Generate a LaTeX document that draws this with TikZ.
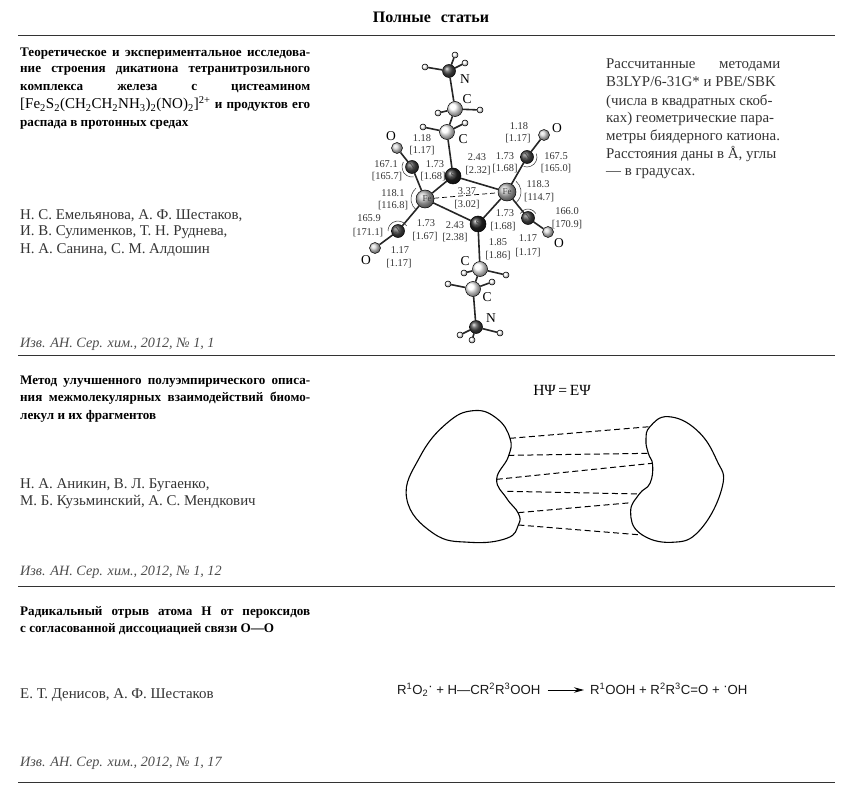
\documentclass[tikz,border=0pt]{standalone}
\usepackage{fontspec}
\setmainfont{Liberation Serif}
\newfontfamily\eqfont{Liberation Sans}
\usetikzlibrary{arrows.meta,backgrounds}
\newcommand{\tln}[5][]{\node[txt,#1] (#2) at (#3,#4) {#5};}
\newcommand{\jln}[4]{\node[txt,ttl] (#1) at (#2,#3) {\makebox[290pt][s]{#4}};}
\newcommand{\lab}[3]{\node[lbl] at (#1,#2) {#3};}
\newcommand{\elt}[3]{\node[eltlbl] at (#1,#2) {#3};}
\newcommand{\ins}[3]{\node[insym] at (#1,#2) {#3};}
\newcommand{\angarc}[4]{\draw[bendarc] (#1) ++(#2:#4pt) arc[start angle=#2,end angle=#3,radius=#4pt];}
\newcommand{\rdot}{\raisebox{0.45ex}{\fontsize{13}{13}\selectfont·}}
\begin{document}
\begin{tikzpicture}[x=1pt,y=-1pt,
  txt/.style={anchor=base west,inner sep=0pt,font=\fontsize{14.9}{16}\selectfont,text=black!80},
  ttl/.style={font=\fontsize{13.1}{15}\selectfont\bfseries,text=black},
  cite/.style={font=\fontsize{14.2}{16}\selectfont\itshape,text=black!70},
  rule/.style={line width=0.8pt,black!80},
  lbl/.style={inner sep=0pt,font=\fontsize{10.4}{11}\selectfont,text=black!80},
  eltlbl/.style={inner sep=0pt,font=\fontsize{13.5}{14}\selectfont,text=black},
  insym/.style={inner sep=0pt,font=\fontsize{9}{10}\selectfont,text=black!75},
  bond/.style={line width=1.6pt,black!85},
  atom/.style={circle,draw=black,line width=0.5pt,inner sep=0pt,shading=ball},
  hyd/.style={atom,minimum size=6pt,ball color=white},
  car/.style={atom,minimum size=15pt,ball color=white},
  nit/.style={atom,minimum size=13pt,ball color=black!70},
  sul/.style={atom,minimum size=16pt,ball color=black!85},
  iron/.style={atom,minimum size=18pt,ball color=black!25},
  oxy/.style={atom,minimum size=11pt,ball color=black!15},
  bendarc/.style={line width=0.5pt,black!80},
  blob/.style={line width=1.1pt,black},
  hbond/.style={line width=1pt,black,dash pattern=on 6pt off 3.5pt},
  eq/.style={anchor=base west,inner sep=0pt,font=\fontsize{13.2}{15}\selectfont\eqfont,text=black!90}]
\useasboundingbox (0,0) rectangle (861,786);

% rules
\coordinate (r1a) at (18,35); \coordinate (r1b) at (835,35);
\coordinate (r2a) at (18,355); \coordinate (r2b) at (835,355);
\coordinate (r3a) at (18,586); \coordinate (r3b) at (835,586);
\coordinate (r4a) at (18,782); \coordinate (r4b) at (835,782);
\draw[rule] (r1a)--(r1b); \draw[rule] (r2a)--(r2b); \draw[rule] (r3a)--(r3b); \draw[rule] (r4a)--(r4b);

\node[inner sep=0pt,font=\fontsize{16}{18}\selectfont\bfseries] (head) at (431,17) {Полные\hspace{10pt}статьи};

% section 1
\jln{a1}{20}{57}{Теоретическое и экспериментальное исследова-}
\jln{a2}{20}{73}{ние строения дикатиона тетранитрозильного}
\jln{a3}{20}{91}{комплекса железа с цистеамином}
\node[txt,ttl] (a4) at (20,109) {\makebox[290pt][s]{{\mdseries\fontsize{15}{15}\selectfont [Fe\textsubscript{2}S\textsubscript{2}(CH\textsubscript{2}CH\textsubscript{2}NH\textsubscript{3})\textsubscript{2}(NO)\textsubscript{2}]\textsuperscript{2+}} и продуктов его}};
\tln[ttl]{a5}{20}{127}{распада в протонных средах}
\tln{a6}{20}{219}{Н. С. Емельянова, А. Ф. Шестаков,}
\tln{a7}{20}{236}{И. В. Сулименков, Т. Н. Руднева,}
\tln{a8}{20}{254}{Н. А. Санина, С. М. Алдошин}
\tln[cite]{a9}{20}{347}{Изв. АН. Сер. хим., 2012, № 1, 1}

% side text
\tln{s1}{606}{69}{\makebox[174pt][s]{Рассчитанные методами}}
\tln{s2}{606}{87}{B3LYP/6-31G* и PBE/SBK}
\tln{s3}{606}{106}{(числа в квадратных скоб-}
\tln{s4}{606}{123}{ках) геометрические пара-}
\tln{s5}{606}{141}{метры биядерного катиона.}
\tln{s6}{606}{159}{Расстояния даны в Å, углы}
\tln{s7}{606}{176}{— в градусах.}

% section 2
\jln{b1}{20}{384}{Метод улучшенного полуэмпирического описа-}
\jln{b2}{20}{401}{ния межмолекулярных взаимодействий биомо-}
\tln[ttl]{b3}{20}{419}{лекул и их фрагментов}
\tln{b4}{20}{488}{Н. А. Аникин, В. Л. Бугаенко,}
\tln{b5}{20}{505}{М. Б. Кузьминский, А. С. Мендкович}
\tln[cite]{b6}{20}{575}{Изв. АН. Сер. хим., 2012, № 1, 12}

% section 3
\jln{c1}{20}{615}{Радикальный отрыв атома Н от пероксидов}
\tln[ttl]{c2}{20}{632}{с согласованной диссоциацией связи О—О}
\tln{c3}{20}{698}{Е. Т. Денисов, А. Ф. Шестаков}
\tln[cite]{c4}{20}{766}{Изв. АН. Сер. хим., 2012, № 1, 17}

% molecule atoms
\node[nit] (Nt) at (449,71) {};
\node[hyd] (Nt1) at (455,55) {}; \node[hyd] (Nt2) at (425,67) {}; \node[hyd] (Nt3) at (465,63) {};
\node[car] (C1) at (455,109) {};
\node[hyd] (C1a) at (438,113) {}; \node[hyd] (C1b) at (480,110) {};
\node[car] (C2) at (447,132) {};
\node[hyd] (C2a) at (423,127) {}; \node[hyd] (C2b) at (465,123) {};
\node[sul] (S1) at (453,176) {};
\node[iron] (Fe1) at (425,199) {};
\node[iron] (Fe2) at (507,192) {};
\node[sul] (S2) at (478,224) {};
\node[nit] (N1) at (412,167) {}; \node[oxy] (O1) at (397,148) {};
\node[nit] (N2) at (398,231) {}; \node[oxy] (O2) at (375,248) {};
\node[nit] (N3) at (527,157) {}; \node[oxy] (O3) at (544,135) {};
\node[nit] (N4) at (528,218) {}; \node[oxy] (O4) at (548,232) {};
\node[car] (C3) at (480,269) {};
\node[hyd] (C3a) at (464,273) {}; \node[hyd] (C3b) at (506,275) {};
\node[car] (C4) at (473,289) {};
\node[hyd] (C4a) at (448,284) {}; \node[hyd] (C4b) at (492,282) {};
\node[nit] (Nb) at (476,327) {};
\node[hyd] (Nb1) at (460,335) {}; \node[hyd] (Nb2) at (472,340) {}; \node[hyd] (Nb3) at (500,333) {};

\begin{scope}[on background layer]
  \draw[bond] (Nt)--(C1); \draw[bond] (C1)--(C2); \draw[bond] (C2)--(S1);
  \draw[bond] (Nt)--(Nt1); \draw[bond] (Nt)--(Nt2); \draw[bond] (Nt)--(Nt3);
  \draw[bond] (C1)--(C1a); \draw[bond] (C1)--(C1b);
  \draw[bond] (C2)--(C2a); \draw[bond] (C2)--(C2b);
  \draw[bond] (S1)--(Fe1); \draw[bond] (S1)--(Fe2);
  \draw[bond] (S2)--(Fe1); \draw[bond] (S2)--(Fe2);
  \draw[bond] (Fe1)--(N1); \draw[bond] (N1)--(O1);
  \draw[bond] (Fe1)--(N2); \draw[bond] (N2)--(O2);
  \draw[bond] (Fe2)--(N3); \draw[bond] (N3)--(O3);
  \draw[bond] (Fe2)--(N4); \draw[bond] (N4)--(O4);
  \draw[bond] (S2)--(C3); \draw[bond] (C3)--(C4); \draw[bond] (C4)--(Nb);
  \draw[bond] (C3)--(C3a); \draw[bond] (C3)--(C3b);
  \draw[bond] (C4)--(C4a); \draw[bond] (C4)--(C4b);
  \draw[bond] (Nb)--(Nb1); \draw[bond] (Nb)--(Nb2); \draw[bond] (Nb)--(Nb3);
  \draw[line width=0.7pt,black,dash pattern=on 5pt off 3pt] (Fe1)--(Fe2);
  \lab{433}{177}{[1.68]}
\end{scope}

\angarc{Fe1}{130}{230}{14}
\angarc{Fe2}{-50}{50}{14}
\angarc{N1}{150}{280}{10}
\angarc{N2}{30}{180}{10}
\angarc{N3}{20}{-110}{10}
\angarc{N4}{30}{150}{9}

% atom symbols
\ins{427}{199}{Fe} \ins{507}{192}{Fe}
\ins{453}{176}{S} \ins{478}{224}{S}
\ins{412}{167}{N} \ins{398}{231}{N} \ins{527}{157}{N} \ins{528}{218}{N}
\elt{391}{136}{O} \elt{465}{79}{N} \elt{467}{99}{C} \elt{463}{139}{C}
\elt{557}{128}{O} \elt{559}{243}{O} \elt{366}{260}{O}
\elt{465}{261}{C} \elt{487}{297}{C} \elt{491}{318}{N}

% numbers
\lab{422}{138}{1.18} \lab{422}{151}{[1.17]}
\lab{519}{126}{1.18} \lab{518}{139}{[1.17]}
\lab{386}{164}{167.1} \lab{387}{177}{[165.7]}
\lab{435}{164}{1.73}
\lab{477}{157}{2.43} \lab{478}{171}{[2.32]}
\lab{505}{156}{1.73} \lab{505}{169}{[1.68]}
\lab{556}{156}{167.5} \lab{556}{169}{[165.0]}
\lab{538}{184}{118.3} \lab{539}{198}{[114.7]}
\lab{393}{193}{118.1} \lab{393}{206}{[116.8]}
\lab{467}{191}{3.37} \lab{467}{205}{[3.02]}
\lab{505}{213}{1.73} \lab{503}{227}{[1.68]}
\lab{567}{211}{166.0} \lab{567}{225}{[170.9]}
\lab{369}{218}{165.9} \lab{368}{233}{[171.1]}
\lab{426}{223}{1.73} \lab{425}{237}{[1.67]}
\lab{455}{225}{2.43} \lab{455}{238}{[2.38]}
\lab{498}{242}{1.85} \lab{498}{256}{[1.86]}
\lab{528}{238}{1.17} \lab{528}{253}{[1.17]}
\lab{400}{250}{1.17} \lab{399}{264}{[1.17]}

% Psi equation
\node[inner sep=0pt,anchor=base,font=\fontsize{15.5}{17}\selectfont] (psi) at (562,395) {HΨ\,=\,EΨ};

% blobs
\begin{scope}[shift={(400,370)},x=0.3333pt,y=-0.3333pt]
  \coordinate (l1) at (330,205); \coordinate (l2) at (325,256); \coordinate (l3) at (290,328);
  \coordinate (l4) at (322,364); \coordinate (l5) at (355,428); \coordinate (l6) at (355,465);
  \coordinate (m1) at (750,170); \coordinate (m2) at (745,250); \coordinate (m3) at (757,280);
  \coordinate (m4) at (718,372); \coordinate (m5) at (695,398); \coordinate (m6) at (725,495);
  \draw[blob] plot[smooth cycle,tension=0.75] coordinates {(330,205) (325,260) (290,328) (320,385) (355,430) (355,465) (320,505) (210,517) (100,490) (20,385) (60,260) (140,160) (220,122) (290,145)};
  \draw[blob] plot[smooth cycle,tension=0.75] coordinates {(750,170) (738,210) (745,250) (758,285) (750,340) (718,372) (692,425) (720,490) (815,517) (900,480) (967,350) (950,270) (890,180) (805,140)};
  \draw[hbond] (l1)--(m1); \draw[hbond] (l2)--(m2); \draw[hbond] (l3)--(m3);
  \draw[hbond] (l4)--(m4); \draw[hbond] (l5)--(m5); \draw[hbond] (l6)--(m6);
\end{scope}

% reaction
\node[eq] (eqL) at (397,694) {R\textsuperscript{1}O\textsubscript{2}\rdot{} + H—CR\textsuperscript{2}R\textsuperscript{3}OOH};
\node[eq] (eqR) at (590,694) {R\textsuperscript{1}OOH + R\textsuperscript{2}R\textsuperscript{3}C=O + \rdot{}OH};
\draw[-{Stealth[length=10pt,width=5.5pt]},line width=1pt] ([shift={(7,-4)}]eqL.base east) -- ([shift={(-6,-4)}]eqR.base west);
\end{tikzpicture}
\end{document}
